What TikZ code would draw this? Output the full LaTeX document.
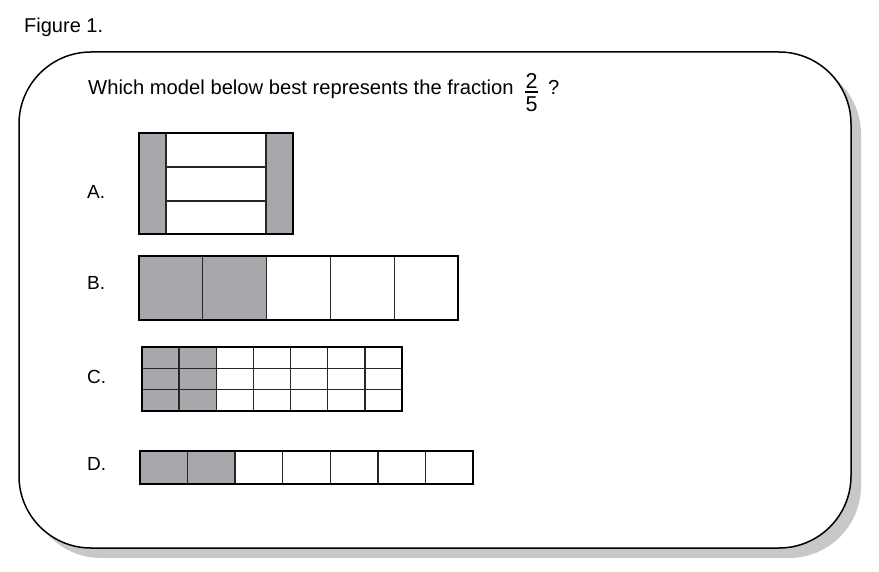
\documentclass[tikz,border=0pt]{standalone}
\usepackage{fontspec}
\setmainfont{Liberation Sans}
\definecolor{shade}{HTML}{A7A8AB}
\definecolor{shadow}{HTML}{C8C8C8}
\tikzset{
  outerbox/.style={draw=black, line width=2.2pt},
  innerline/.style={draw=black!85, line width=1.3pt},
  greycell/.style={fill=shade},
  qtext/.style={font=\fontsize{20.2}{24}\selectfont, inner sep=0pt},
  fractext/.style={font=\fontsize{21.5}{24}\selectfont, inner sep=0pt},
  optlabel/.style={font=\fontsize{19}{22}\selectfont, inner sep=0pt, anchor=base west},
}
\begin{document}
\begin{tikzpicture}[x=1pt,y=-1pt]
\useasboundingbox (0,0) rectangle (879,572);
% title
\node[font=\fontsize{20}{24}\selectfont, inner sep=0pt, anchor=base west] (title) at (24,33) {Figure 1.};
% frame with shadow
\fill[shadow, rounded corners=72pt] (29,62) rectangle (861,558);
\filldraw[fill=white, draw=black, line width=1.5pt, rounded corners=72pt] (19,52) rectangle (851,548);
% question
\node[qtext, anchor=base west] (q) at (88,95) {Which model below best represents the fraction};
\node[fractext] (num) at (531.5,80.5) {2};
\node[fractext] (den) at (531.5,104.5) {5};
\draw[line width=1.2pt] (525,92) -- (538,92);
\node[qtext, anchor=base west] (qm) at (548,95) {?};
% labels
\node[optlabel] (la) at (87,199) {A.};
\node[optlabel] (lb) at (87,290) {B.};
\node[optlabel] (lc) at (87,383) {C.};
\node[optlabel] (ld) at (87,470) {D.};
% A
\fill[greycell] (139,133) rectangle (166,234);
\fill[greycell] (266,133) rectangle (293,234);
\draw[innerline] (166,133) -- (166,234);
\draw[innerline] (266,133) -- (266,234);
\draw[innerline] (166,167) -- (266,167);
\draw[innerline] (166,201) -- (266,201);
\draw[outerbox] (139,133) rectangle (293,234);
% B
\fill[greycell] (139,256) rectangle ({139+2*63.8},320);
\foreach \i in {1,...,4} \draw[innerline] ({139+\i*63.8},256) -- ({139+\i*63.8},320);
\draw[outerbox] (139,256) rectangle (458,320);
% C
\fill[greycell] (142,347) rectangle ({142+2*260/7},411);
\foreach \i in {1,...,6} \draw[innerline] ({142+\i*260/7},347) -- ({142+\i*260/7},411);
\foreach \j in {1,2} \draw[innerline] (142,{347+\j*64/3}) -- (402,{347+\j*64/3});
\draw[outerbox] (142,347) rectangle (402,411);
% D
\fill[greycell] (140,451) rectangle ({140+2*333/7},484);
\foreach \i in {1,...,6} \draw[innerline] ({140+\i*333/7},451) -- ({140+\i*333/7},484);
\draw[outerbox] (140,451) rectangle (473,484);
\end{tikzpicture}
\end{document}
